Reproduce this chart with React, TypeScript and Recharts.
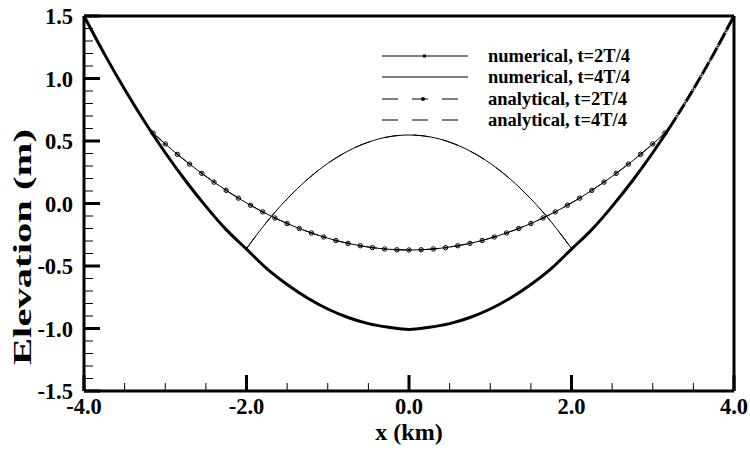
import React from 'react';
import { LineChart, Line, XAxis, YAxis, ReferenceLine, Legend } from 'recharts';

// ---- data ----
const bedX = [-4, -3.75, -3.5, -3.25, -3, -2.75, -2.5, -2.25, -2, -1.75, -1.5, -1.25, -1, -0.75, -0.5, -0.25, 0,
  0.25, 0.5, 0.75, 1, 1.25, 1.5, 1.75, 2, 2.25, 2.5, 2.75, 3, 3.25, 3.5, 3.75, 4];
const bedY = [1.5, 1.197, 0.914, 0.65, 0.406, 0.182, -0.023, -0.209, -0.365, -0.521, -0.648, -0.756, -0.844, -0.912, -0.961, -0.99, -1.008,
  -0.99, -0.961, -0.912, -0.844, -0.756, -0.648, -0.521, -0.365, -0.209, -0.023, 0.182, 0.406, 0.65, 0.914, 1.197, 1.5];

const t2X = [-3.15, -3.0, -2.85, -2.7, -2.55, -2.4, -2.25, -2.1, -1.95, -1.8, -1.65, -1.5, -1.35, -1.2, -1.05, -0.9, -0.75, -0.6, -0.45, -0.3, -0.15, 0,
  0.15, 0.3, 0.45, 0.6, 0.75, 0.9, 1.05, 1.2, 1.35, 1.5, 1.65, 1.8, 1.95, 2.1, 2.25, 2.4, 2.55, 2.7, 2.85, 3.0, 3.15];
const t2Y = [0.563, 0.476, 0.393, 0.315, 0.241, 0.171, 0.105, 0.043, -0.014, -0.067, -0.116, -0.16, -0.2, -0.236, -0.268, -0.296, -0.319, -0.338, -0.353, -0.364, -0.37, -0.372,
  -0.37, -0.364, -0.353, -0.338, -0.319, -0.296, -0.268, -0.236, -0.2, -0.16, -0.116, -0.067, -0.014, 0.043, 0.105, 0.171, 0.241, 0.315, 0.393, 0.476, 0.563];

const t4X = [-2, -1.75, -1.5, -1.25, -1, -0.75, -0.5, -0.25, 0, 0.25, 0.5, 0.75, 1, 1.25, 1.5, 1.75, 2];
const t4Y = [-0.36, -0.147, 0.037, 0.193, 0.321, 0.42, 0.491, 0.534, 0.548, 0.534, 0.491, 0.42, 0.321, 0.193, 0.037, -0.147, -0.36];

const dryX = [3.3, 3.4, 3.5, 3.6, 3.7, 3.8, 3.9];
const dryY = [0.702, 0.806, 0.914, 1.025, 1.139, 1.256, 1.377];

const xMajorTicks = [-4, -2, 0, 2, 4];
const xMinorTicks = [-3.5, -3, -2.5, -1.5, -1, -0.5, 0.5, 1, 1.5, 2.5, 3, 3.5];
const yMajorTicks = [-1.5, -1, -0.5, 0, 0.5, 1, 1.5];
const yMinorTicks = [-1.4, -1.3, -1.2, -1.1, -0.9, -0.8, -0.7, -0.6, -0.4, -0.3, -0.2, -0.1,
  0.1, 0.2, 0.3, 0.4, 0.6, 0.7, 0.8, 0.9, 1.1, 1.2, 1.3, 1.4];

const seriesNames = ['numerical, t=2T/4', 'numerical, t=4T/4', 'analytical, t=2T/4', 'analytical, t=4T/4'];
const xLabel = 'x (km)';
const yLabel = 'Elevation (m)';

// ---- built tables ----
const zip = (xs: number[], ys: number[]) => xs.map((x, i) => ({ x, y: ys[i] }));
const bed = zip(bedX, bedY);
const t2 = zip(t2X, t2Y);
const t4 = zip(t4X, t4Y);
const dry = zip(dryX, dryY);

const FONT = '"Liberation Serif", "Times New Roman", serif';
const isIn = (arr: number[], v: number) => arr.some((t) => Math.abs(t - v) < 1e-6);

const XTick = (props: any) => {
  const { x, y, payload } = props;
  const v = Number(payload.value);
  const major = isIn(xMajorTicks, v);
  return (
    <g>
      <line x1={x} x2={x} y1={y} y2={y - (major ? 16 : 8)} stroke="#000" strokeWidth={major ? 3 : 1} />
      {major && (
        <text x={x} y={y + 23} textAnchor="middle" fontFamily={FONT} fontWeight="bold" fontSize={22.5} fill="#000">
          {v.toFixed(1)}
        </text>
      )}
    </g>
  );
};

const YTick = (props: any) => {
  const { x, y, payload } = props;
  const v = Number(payload.value);
  const major = isIn(yMajorTicks, v);
  return (
    <g>
      <line x1={x} x2={x + (major ? 16 : 9)} y1={y} y2={y} stroke="#000" strokeWidth={major ? 3 : 1} />
      {major && (
        <text x={x - 11} y={y + 8} textAnchor="end" fontFamily={FONT} fontWeight="bold" fontSize={22.5} fill="#000">
          {v.toFixed(1)}
        </text>
      )}
    </g>
  );
};

const squareDot = (p: any) => (
  <rect key={`sq-${p.index}`} x={p.cx - 1} y={p.cy - 1} width={2} height={2} fill="#000" />
);

const renderLegend = (props: any) => {
  const payload: any[] = props.payload || [];
  const names = seriesNames.filter((n) => payload.length === 0 || payload.some((p) => p.value === n));
  const rowY = [11, 32, 54, 75];
  return (
    <svg width={290} height={90}>
      {names.map((name) => {
        const idx = seriesNames.indexOf(name);
        const y = rowY[idx];
        const dashed = idx >= 2;
        return (
          <g key={name}>
            <line x1={4} x2={90} y1={y} y2={y} stroke="#000" strokeWidth={1.2} strokeDasharray={dashed ? '16 14' : undefined} />
            {idx === 0 && <rect x={45} y={y - 1.5} width={3} height={3} fill="#000" />}
            {idx === 2 && <circle cx={45} cy={y} r={2} fill="#000" />}
            <text x={110} y={y + 6} fontFamily={FONT} fontWeight="bold" fontSize={18.5} fill="#000">
              {name}
            </text>
          </g>
        );
      })}
    </svg>
  );
};

export default function App() {
  return (
    <div style={{ position: 'absolute', left: 0, top: 0, width: 750, height: 450, background: '#fff' }}>
      <LineChart width={750} height={450} margin={{ top: 16, right: 16, left: 0, bottom: 0 }}>
        <XAxis
          dataKey="x"
          type="number"
          domain={[-4, 4]}
          ticks={[...xMajorTicks, ...xMinorTicks].sort((a, b) => a - b)}
          interval={0}
          tickSize={0}
          tickMargin={0}
          tickLine={false}
          axisLine={{ stroke: '#000', strokeWidth: 3 }}
          tick={(p: any) => <XTick {...p} />}
          height={59}
          label={() => (
            <text x={409} y={440} textAnchor="middle" fontFamily={FONT} fontWeight="bold" fontSize={24} fill="#000">
              {xLabel}
            </text>
          )}
        />
        <YAxis
          dataKey="y"
          type="number"
          domain={[-1.5, 1.5]}
          ticks={[...yMajorTicks, ...yMinorTicks].sort((a, b) => a - b)}
          interval={0}
          tickSize={0}
          tickMargin={0}
          tickLine={false}
          axisLine={{ stroke: '#000', strokeWidth: 3 }}
          tick={(p: any) => <YTick {...p} />}
          width={84}
          label={() => (
            <text
              x={31}
              y={247}
              transform="rotate(-90 31 247)"
              textAnchor="middle"
              fontFamily={FONT}
              fontWeight="bold"
              fontSize={25}
              textLength={236}
              lengthAdjust="spacingAndGlyphs"
              fill="#000"
            >
              {yLabel}
            </text>
          )}
        />
        <ReferenceLine y={1.5} stroke="#000" strokeWidth={3} />
        <ReferenceLine x={4} stroke="#000" strokeWidth={3} />
        <Line data={bed} dataKey="y" type="monotone" stroke="#000" strokeWidth={3} dot={false} legendType="none" isAnimationActive={false} />
        <Line data={t2} dataKey="y" name={seriesNames[0]} type="linear" stroke="#000" strokeWidth={1} dot={squareDot} isAnimationActive={false} />
        <Line data={t4} dataKey="y" name={seriesNames[1]} type="monotone" stroke="#000" strokeWidth={1} dot={false} isAnimationActive={false} />
        <Line data={t2} dataKey="y" name={seriesNames[2]} type="linear" stroke="#000" strokeWidth={1} strokeDasharray="16 14"
          dot={{ r: 2.2, stroke: '#000', strokeWidth: 1, fill: 'none' }} isAnimationActive={false} />
        <Line data={t4} dataKey="y" name={seriesNames[3]} type="monotone" stroke="#000" strokeWidth={1} strokeDasharray="16 14" dot={false} isAnimationActive={false} />
        <Line data={dry} dataKey="y" type="linear" stroke="none" legendType="none"
          dot={{ r: 1.4, stroke: '#fff', strokeWidth: 0.8, fill: 'none' }} isAnimationActive={false} />
        <Legend layout="vertical" verticalAlign="middle" align="center" content={renderLegend}
          wrapperStyle={{ left: 378, top: 45, width: 290, height: 90 }} />
      </LineChart>
    </div>
  );
}
